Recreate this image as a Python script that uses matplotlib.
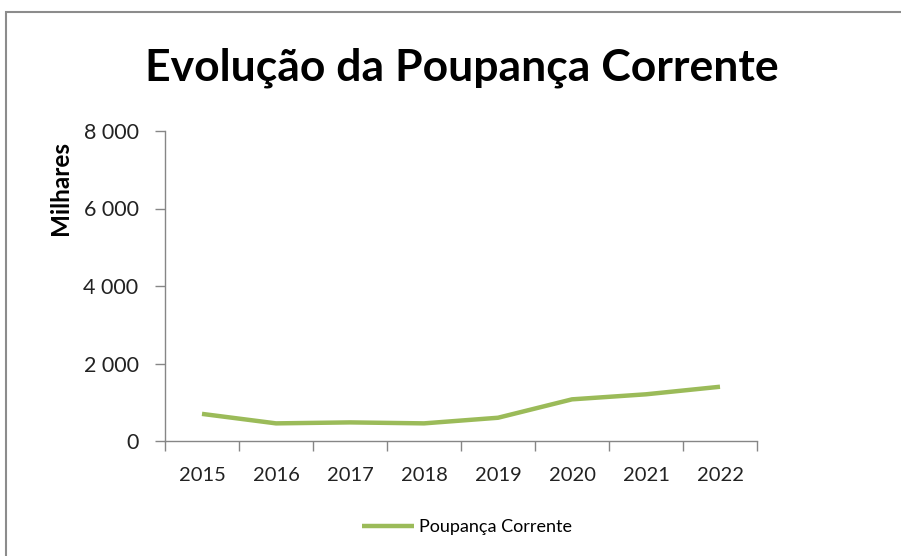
import matplotlib
matplotlib.use("Agg")
import matplotlib.pyplot as plt
from matplotlib.patches import Rectangle
from matplotlib.ticker import FuncFormatter, FixedLocator
import numpy as np

years = ["2015", "2016", "2017", "2018", "2019", "2020", "2021", "2022"]
poupanca = [700, 455, 480, 455, 600, 1075, 1205, 1400]

green = "#9BBB59"
grey = "#868686"
plt.rcParams['font.family'] = ['Lato', 'DejaVu Sans']

fig = plt.figure(figsize=(9.01, 5.56), dpi=100)
fig.patches.append(Rectangle((6 / 901, -0.1), 1.2, 1 - 12 / 556 + 0.1,
                             transform=fig.transFigure, fill=False,
                             edgecolor="#8c8c8c", linewidth=1.5))

ax = fig.add_axes([165 / 901, 1 - 441 / 556, (757 - 165) / 901, (441 - 131) / 556])
x = np.arange(len(years))
ax.plot(x, poupanca, color=green, linewidth=3.2, solid_capstyle="butt",
        label="Poupança Corrente")

ax.set_xlim(-0.5, len(years) - 0.5)
ax.set_ylim(0, 8000)
ax.set_yticks([0, 2000, 4000, 6000, 8000])
ax.yaxis.set_major_formatter(FuncFormatter(lambda v, p: f"{int(v):,}".replace(",", " ")))
ax.set_xticks(x)
ax.set_xticklabels(years)
ax.xaxis.set_minor_locator(FixedLocator(np.arange(-0.5, len(years), 1.0)))
ax.tick_params(axis="x", which="major", length=0, pad=19, labelsize=14.5, colors="#222222")
ax.tick_params(axis="x", which="minor", length=7, color=grey, width=1)
ax.tick_params(axis="y", length=7, color=grey, width=1, labelsize=15.5, labelcolor="#222222", pad=12)

for s in ["top", "right"]:
    ax.spines[s].set_visible(False)
for s in ["left", "bottom"]:
    ax.spines[s].set_color(grey)
    ax.spines[s].set_linewidth(1)

fig.text(462 / 901, 1 - 68 / 556, "Evolução da Poupança Corrente", ha="center", va="center",
         fontsize=32, fontweight="bold", color="black")
fig.text(61 / 901, 1 - 188 / 556, "Milhares", rotation=90, ha="center", va="center",
         fontsize=17.5, fontweight="bold", color="black")

fig.legend(loc="center", bbox_to_anchor=(467 / 901, 1 - 527 / 556), frameon=False,
           fontsize=13, handlelength=2.9, handletextpad=0.28)

fig.savefig("out.png", dpi=100)
